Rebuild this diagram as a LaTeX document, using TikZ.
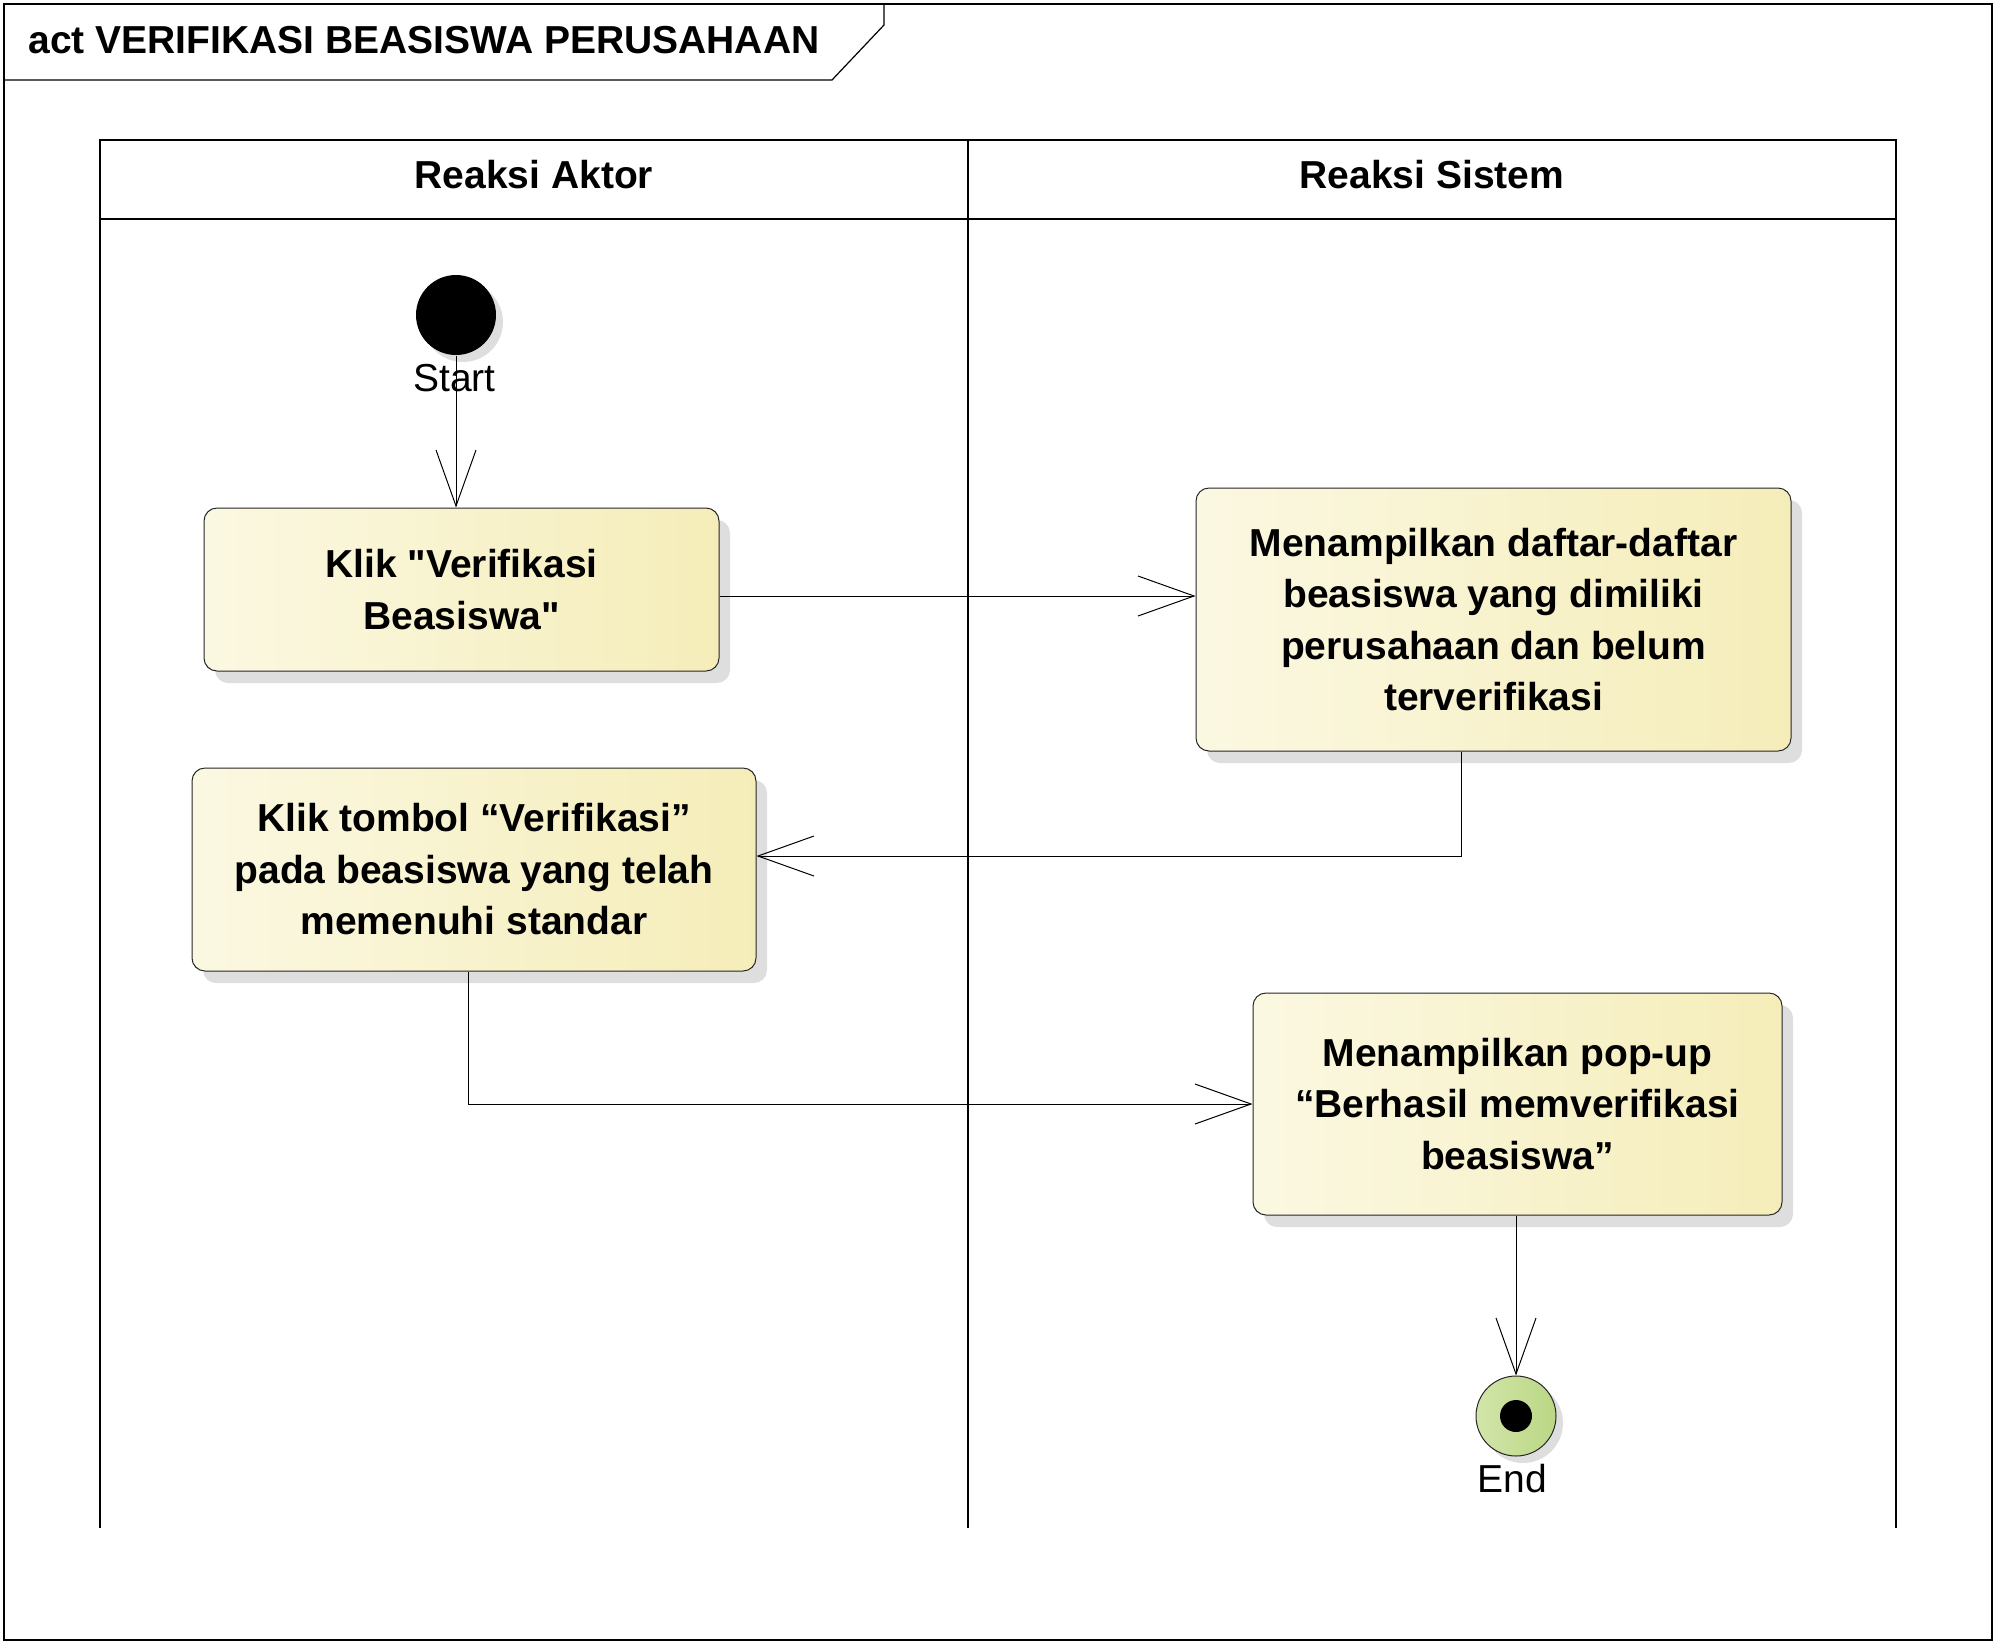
\documentclass[tikz,border=0pt]{standalone}
\usepackage{fontspec}
\setmainfont{Liberation Sans}[Ligatures=TeXOff]
\usetikzlibrary{arrows.meta,shadows}
\definecolor{boxl}{RGB}{251,248,226}
\definecolor{boxr}{RGB}{245,237,185}
\definecolor{endl}{RGB}{210,229,170}
\definecolor{endr}{RGB}{186,215,132}

\begin{document}
\begin{tikzpicture}[x=0.5pt,y=-0.5pt,line width=0.5pt,->,>={Straight Barb[length=28pt,width=20pt]}]
  \tikzstyle{activity}=[draw=black!85,rounded corners=6.5pt,left color=boxl,right color=boxr,drop shadow={shadow xshift=5.5pt,shadow yshift=-6pt,fill=black!13,opacity=1},align=center,inner sep=0pt,font=\bfseries\fontsize{19.5}{25.75}\selectfont]
  \tikzstyle{initial}=[circle,fill=black,minimum size=40pt,inner sep=0pt,drop shadow={shadow xshift=3.5pt,shadow yshift=-3.5pt,fill=black!13,opacity=1}]
  \tikzstyle{final}=[circle,draw=black!85,left color=endl,right color=endr,minimum size=40pt,inner sep=0pt,drop shadow={shadow xshift=3.5pt,shadow yshift=-3.5pt,fill=black!13,opacity=1}]
  \tikzstyle{lane}=[inner sep=0pt,font=\bfseries\fontsize{19.5}{25.75}\selectfont]
  \tikzstyle{caption}=[inner sep=0pt,anchor=base,font=\fontsize{19.5}{25.75}\selectfont]
  \useasboundingbox (0,0) rectangle (1996,1644);

  % frame and title tab
  \draw[-,line width=0.6pt] (4,4) rectangle (1992,1640);
  \draw[-,line width=0.6pt] (4,80) -- (832,80) -- (884,25) -- (884,4);
  \node[lane,anchor=base west] (T) at (28,53) {act VERIFIKASI BEASISWA PERUSAHAAN};

  % swimlanes
  \draw[-,line width=0.6pt] (100,1528) -- (100,140) -- (1896,140) -- (1896,1528);
  \draw[-,line width=0.6pt] (100,219) -- (1896,219);
  \draw[-,line width=0.6pt] (968,140) -- (968,1528);
  \node[lane] (L_1) at (534,175) {Reaksi Aktor};
  \node[lane] (L_2) at (1432,175) {Reaksi Sistem};

  \node[initial] (S) at (456,315) {};
  \node[caption] (S_t) at (454.5,391) {Start};
  \node[activity,minimum width=257.5pt,minimum height=81.5pt] (K_1) at (461.5,589.5) {Klik "Verifikasi\\Beasiswa"};
  \node[activity,minimum width=297.5pt,minimum height=131.5pt] (K_2) at (1493.5,619.5) {Menampilkan daftar-daftar\\beasiswa yang dimiliki\\perusahaan dan belum\\terverifikasi};
  \node[activity,minimum width=282pt,minimum height=101.5pt] (K_3) at (474,869.5) {Klik tombol “Verifikasi”\\pada beasiswa yang telah\\memenuhi standar};
  \node[activity,minimum width=264.5pt,minimum height=111pt] (K_4) at (1517.5,1104) {Menampilkan pop-up\\“Berhasil memverifikasi\\beasiswa”};
  \node[final] (E) at (1516,1416) {};
  \node[circle,fill=black,minimum size=16pt,inner sep=0pt] (E_dot) at (E) {};
  \node[caption] (E_t) at (1512.5,1492) {End};

  \draw (S) -- (S |- K_1.north);
  \draw ([yshift=-3.25pt]K_1.east) -- ([yshift=-3.25pt]K_1.east -| K_2.west);
  \draw ([xshift=-16.25pt]K_2.south) |- ([yshift=6.75pt]K_3.east);
  \draw ([xshift=-3pt]K_3.south) |- (K_4.west);
  \draw (K_4.south -| E) -- (E);
\end{tikzpicture}
\end{document}
